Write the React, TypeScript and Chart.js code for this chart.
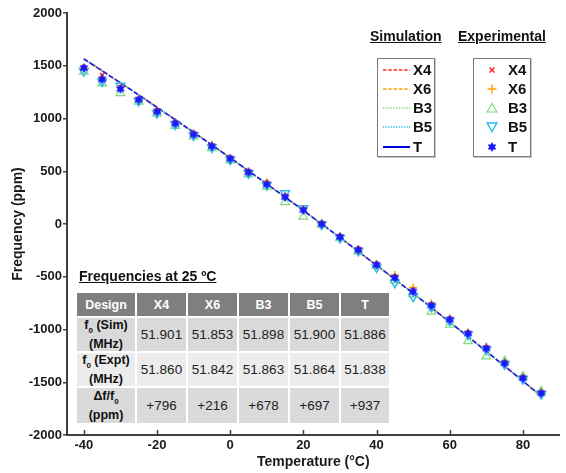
import React, { useEffect, useRef } from 'react';
import { Chart, registerables } from 'chart.js';
Chart.register(...registerables);

const temps = [-40, -35, -30, -25, -20, -15, -10, -5, 0, 5, 10, 15, 20, 25, 30, 35, 40, 45, 50, 55, 60, 65, 70, 75, 80, 85];

// Simulation curves (ppm)
const simX4 = [1568, 1455, 1340, 1225, 1108, 990, 871, 751, 629, 506, 382, 256, 129, 1, -128, -259, -390, -523, -657, -792, -929, -1067, -1206, -1346, -1488, -1630];
const simX6 = [1562, 1449, 1336, 1221, 1104, 986, 867, 747, 625, 502, 378, 253, 127, -1, -130, -261, -392, -525, -659, -794, -931, -1069, -1208, -1348, -1490, -1633];
const simB3 = [1566, 1453, 1339, 1224, 1107, 989, 870, 750, 628, 505, 381, 255, 128, 0, -129, -260, -391, -524, -658, -793, -930, -1068, -1207, -1347, -1489, -1631];
const simB5 = [1564, 1451, 1337, 1222, 1105, 987, 868, 748, 626, 503, 379, 254, 128, 0, -129, -260, -391, -524, -658, -793, -930, -1068, -1207, -1347, -1489, -1632];
const simT = [1565, 1452, 1338, 1223, 1106, 988, 869, 749, 627, 504, 380, 255, 128, 0, -129, -260, -391, -524, -658, -793, -930, -1068, -1207, -1347, -1489, -1632];

// Experimental (ppm)
const expX4 = [1490, 1410, 1295, 1185, 1080, 965, 858, 745, 628, 500, 392, 265, 140, 8, -115, -235, -378, -500, -625, -762, -898, -1030, -1168, -1312, -1455, -1598];
const expX6 = [1475, 1378, 1292, 1182, 1072, 962, 856, 752, 626, 496, 396, 262, 142, 6, -118, -238, -380, -483, -602, -752, -892, -1025, -1160, -1308, -1452, -1592];
const expB3 = [1445, 1333, 1240, 1160, 1045, 930, 830, 718, 603, 470, 355, 208, 70, -12, -135, -262, -395, -535, -668, -830, -955, -1110, -1255, -1300, -1445, -1585];
const expB5 = [1450, 1350, 1310, 1165, 1050, 942, 838, 725, 610, 480, 368, 292, 150, -5, -132, -255, -412, -556, -689, -785, -918, -1048, -1190, -1330, -1470, -1612];
const expT = [1479, 1372, 1280, 1179, 1066, 953, 849, 736, 620, 490, 377, 255, 132, 0, -123, -245, -387, -510, -640, -773, -906, -1038, -1180, -1321, -1462, -1604];

const xTicks = [-40, -20, 0, 20, 40, 60, 80];

const designs = ['X4', 'X6', 'B3', 'B5', 'T'];
const f0Sim = ['51.901', '51.853', '51.898', '51.900', '51.886'];
const f0Expt = ['51.860', '51.842', '51.863', '51.864', '51.838'];
const dfPpm = ['+796', '+216', '+678', '+697', '+937'];

const C_RED = '#ff2a2a';
const C_ORANGE = '#ffa500';
const C_GREEN = '#7ddc7d';
const C_CYAN = '#33bbee';
const C_BLUE = '#1a1aff';
const FONT = '"Liberation Sans", Arial, sans-serif';

function makeStar(size: number, color: string) {
  const c = document.createElement('canvas');
  c.width = size;
  c.height = size;
  const g = c.getContext('2d')!;
  g.fillStyle = color;
  const cx = size / 2, cy = size / 2, R = size / 2, r = R * 0.55;
  g.beginPath();
  for (let i = 0; i < 12; i++) {
    const a = -Math.PI / 2 + (i * Math.PI) / 6;
    const rad = i % 2 === 0 ? R : r;
    g.lineTo(cx + rad * Math.cos(a), cy + rad * Math.sin(a));
  }
  g.closePath();
  g.fill();
  return c;
}

const pts = (arr: number[]) => temps.map((t, i) => ({ x: t, y: arr[i] }));

const inwardTicks = {
  id: 'inwardTicks',
  afterDraw(chart: any) {
    const { ctx, chartArea, scales } = chart;
    const x = scales.x;
    ctx.save();
    ctx.strokeStyle = '#404040';
    ctx.lineWidth = 1.5;
    xTicks.forEach((v) => {
      const px = Math.round(x.getPixelForValue(v)) + 0.5;
      ctx.beginPath();
      ctx.moveTo(px, chartArea.bottom);
      ctx.lineTo(px, chartArea.bottom - 5);
      ctx.stroke();
    });
    ctx.restore();
  },
};

function StarSvg({ size, color }: { size: number; color: string }) {
  const R = size / 2, r = R * 0.55;
  const p: string[] = [];
  for (let i = 0; i < 12; i++) {
    const a = -Math.PI / 2 + (i * Math.PI) / 6;
    const rad = i % 2 === 0 ? R : r;
    p.push(`${(R + rad * Math.cos(a)).toFixed(2)},${(R + rad * Math.sin(a)).toFixed(2)}`);
  }
  return (
    <svg width={size} height={size} style={{ display: 'block' }}>
      <polygon points={p.join(' ')} fill={color} />
    </svg>
  );
}

export default function App() {
  const ref = useRef<HTMLCanvasElement>(null);

  useEffect(() => {
    const star = makeStar(10, C_BLUE);
    const lineDs = (label: string, data: number[], color: string, dash: number[], order: number, width = 1.3) => ({
      label,
      data: pts(data),
      showLine: true,
      borderColor: color,
      backgroundColor: color,
      borderWidth: width,
      borderDash: dash,
      pointRadius: 0,
      order,
    });
    const chart = new Chart(ref.current!, {
      type: 'scatter',
      data: {
        datasets: [
          lineDs('X4 sim', simX4, C_RED, [4, 2], 9),
          lineDs('X6 sim', simX6, C_ORANGE, [4, 2], 8),
          lineDs('B3 sim', simB3, C_GREEN, [1.5, 1.5], 7),
          lineDs('B5 sim', simB5, C_CYAN, [1.5, 1.5], 6),
          lineDs('T sim', simT, C_BLUE, [5, 2.5], 5, 1.6),
          {
            label: 'B3', data: pts(expB3), pointStyle: 'triangle', pointRadius: 5,
            borderColor: C_GREEN, backgroundColor: 'rgba(0,0,0,0)', pointBorderWidth: 1.2, order: 4,
          },
          {
            label: 'B5', data: pts(expB5), pointStyle: 'triangle', rotation: 180, pointRadius: 5,
            borderColor: C_CYAN, backgroundColor: 'rgba(0,0,0,0)', pointBorderWidth: 1.5, order: 3,
          },
          {
            label: 'X6', data: pts(expX6), pointStyle: 'cross', pointRadius: 4,
            borderColor: C_ORANGE, backgroundColor: C_ORANGE, pointBorderWidth: 1.5, order: 2,
          },
          {
            label: 'X4', data: pts(expX4), pointStyle: 'crossRot', pointRadius: 3,
            borderColor: C_RED, backgroundColor: C_RED, pointBorderWidth: 1.5, order: 1,
          },
          {
            label: 'T', data: pts(expT), pointStyle: star as any, pointRadius: 5,
            borderColor: C_BLUE, backgroundColor: C_BLUE, order: 0,
          },
        ] as any,
      },
      options: {
        animation: false,
        responsive: false,
        layout: { padding: { top: 13, right: 0, left: 0, bottom: 0 } },
        plugins: { legend: { display: false }, tooltip: { enabled: false } },
        scales: {
          x: {
            type: 'linear',
            min: -44.6,
            max: 90,
            afterBuildTicks: (s: any) => { s.ticks = xTicks.map((v) => ({ value: v })); },
            afterFit: (s: any) => { s.height = 38; },
            grid: { display: false, drawTicks: false, tickLength: 0 },
            border: { display: true, color: '#404040', width: 2 },
            ticks: {
              color: '#1a1a1a', padding: 3, font: { family: FONT, size: 13, weight: 'bold' },
              callback: (v: any) => String(v),
            },
            title: {
              display: true, text: 'Temperature (°C)', color: '#1a1a1a',
              padding: { top: 0, bottom: 2 }, font: { family: FONT, size: 14, weight: 'bold' },
            },
          },
          y: {
            type: 'linear',
            min: -2000,
            max: 2000,
            ticks: {
              stepSize: 500, color: '#1a1a1a', padding: 1, font: { family: FONT, size: 13, weight: 'bold' },
              callback: (v: any) => String(v),
            },
            afterFit: (s: any) => { s.width = 67; },
            grid: { drawOnChartArea: false, drawTicks: true, tickLength: 4, color: '#404040', lineWidth: 1.5 },
            border: { display: true, color: '#404040', width: 2 },
            title: {
              display: true, text: 'Frequency (ppm)', color: '#1a1a1a',
              padding: { top: 10, bottom: 0 }, font: { family: FONT, size: 14, weight: 'bold' },
            },
          },
        },
      } as any,
      plugins: [inwardTicks],
    });
    return () => chart.destroy();
  }, []);

  const simLegend = [
    { name: 'X4', color: C_RED, dash: '3.5 1.8', w: 1.5 },
    { name: 'X6', color: C_ORANGE, dash: '3.5 1.8', w: 1.5 },
    { name: 'B3', color: C_GREEN, dash: '1.3 1.3', w: 1.5 },
    { name: 'B5', color: C_CYAN, dash: '1.3 1.3', w: 1.5 },
    { name: 'T', color: '#0000dd', dash: '', w: 2 },
  ];
  const rowY = [70, 89, 108, 127, 147];

  const markerFor = (name: string) => {
    switch (name) {
      case 'X4':
        return (
          <svg width={10} height={10}>
            <path d="M2.5 2.5 L7.5 7.5 M7.5 2.5 L2.5 7.5" stroke={C_RED} strokeWidth={1.5} />
          </svg>
        );
      case 'X6':
        return (
          <svg width={10} height={10}>
            <path d="M5 0.5 L5 9.5 M0.5 5 L9.5 5" stroke={C_ORANGE} strokeWidth={1.5} />
          </svg>
        );
      case 'B3':
        return (
          <svg width={12} height={12}>
            <polygon points="6,1.5 10.8,10 1.2,10" fill="none" stroke={C_GREEN} strokeWidth={1.2} />
          </svg>
        );
      case 'B5':
        return (
          <svg width={12} height={12}>
            <polygon points="6,10.5 10.8,2 1.2,2" fill="none" stroke={C_CYAN} strokeWidth={1.5} />
          </svg>
        );
      default:
        return <StarSvg size={10} color={C_BLUE} />;
    }
  };

  const boxStyle: React.CSSProperties = {
    position: 'absolute', top: 58, width: 58, height: 99, border: '1px solid #7a7a7a',
    boxShadow: '1px 1px 0 #c8c8c8', background: 'white', boxSizing: 'border-box',
  };
  const legText: React.CSSProperties = {
    position: 'absolute', font: `bold 15px ${FONT}`, color: '#111', lineHeight: '16px',
  };

  const colW = [58, 49, 49, 49, 49, 48];
  const rowH = [23, 33, 33, 35];
  const cellBase: React.CSSProperties = {
    display: 'flex', alignItems: 'center', justifyContent: 'center', textAlign: 'center',
    fontFamily: FONT, fontSize: 12.5, color: '#222', lineHeight: '14px',
  };
  const rowBg = ['#7f7f7f', '#d9d9d9', '#ececec', '#dadada'];
  const firstCol = [
    <span key="h">Design</span>,
    <span key="a">f<sub style={{ fontSize: 8 }}>0</sub> (Sim)<br />(MHz)</span>,
    <span key="b">f<sub style={{ fontSize: 8 }}>0</sub> (Expt)<br />(MHz)</span>,
    <span key="c">Δf/f<sub style={{ fontSize: 8 }}>0</sub><br />(ppm)</span>,
  ];
  const rows = [designs, f0Sim, f0Expt, dfPpm];

  return (
    <div style={{ position: 'fixed', left: 0, top: 0, width: 566, height: 473, background: 'white', overflow: 'hidden' }}>
      <canvas ref={ref} width={566} height={473} style={{ position: 'absolute', left: 0, top: 0 }} />

      {/* Legend titles */}
      <div style={{ position: 'absolute', left: 370, top: 28, font: `bold 14px ${FONT}`, textDecoration: 'underline', color: '#111' }}>Simulation</div>
      <div style={{ position: 'absolute', left: 458, top: 28, font: `bold 14px ${FONT}`, textDecoration: 'underline', color: '#111' }}>Experimental</div>

      <div style={{ ...boxStyle, left: 377 }} />
      <div style={{ ...boxStyle, left: 473 }} />
      {simLegend.map((s, i) => (
        <React.Fragment key={'s' + s.name}>
          <svg style={{ position: 'absolute', left: 383, top: rowY[i] - 3 }} width={27} height={6}>
            <line x1={0} y1={3} x2={27} y2={3} stroke={s.color} strokeWidth={s.w} strokeDasharray={s.dash || undefined} />
          </svg>
          <div style={{ ...legText, left: 413, top: rowY[i] - 8 }}>{s.name}</div>
        </React.Fragment>
      ))}
      {designs.map((n, i) => (
        <React.Fragment key={'e' + n}>
          <div style={{ position: 'absolute', left: 486, top: rowY[i] - 6, width: 12, height: 12, display: 'flex', alignItems: 'center', justifyContent: 'center' }}>
            {markerFor(n)}
          </div>
          <div style={{ ...legText, left: 508, top: rowY[i] - 8 }}>{n}</div>
        </React.Fragment>
      ))}

      {/* Table */}
      <div style={{ position: 'absolute', left: 79, top: 268, font: `bold 14px ${FONT}`, textDecoration: 'underline', color: '#111' }}>Frequencies at 25 ºC</div>
      <div
        style={{
          position: 'absolute', left: 77, top: 293, display: 'grid',
          gridTemplateColumns: colW.map((w) => w + 'px').join(' '),
          gridTemplateRows: rowH.map((h) => h + 'px').join(' '),
          gap: 2, background: 'white',
        }}
      >
        {rows.map((r, ri) => (
          <React.Fragment key={'r' + ri}>
            <div style={{ ...cellBase, background: rowBg[ri], fontWeight: 'bold', color: ri === 0 ? 'white' : '#111' }}>{firstCol[ri]}</div>
            {r.map((v, ci) => (
              <div
                key={ci}
                style={{
                  ...cellBase, background: rowBg[ri],
                  fontWeight: ri === 0 ? 'bold' : 'normal',
                  color: ri === 0 ? 'white' : '#222',
                  fontSize: ri === 0 ? 12.5 : 13.5,
                }}
              >
                {v}
              </div>
            ))}
          </React.Fragment>
        ))}
      </div>
    </div>
  );
}
